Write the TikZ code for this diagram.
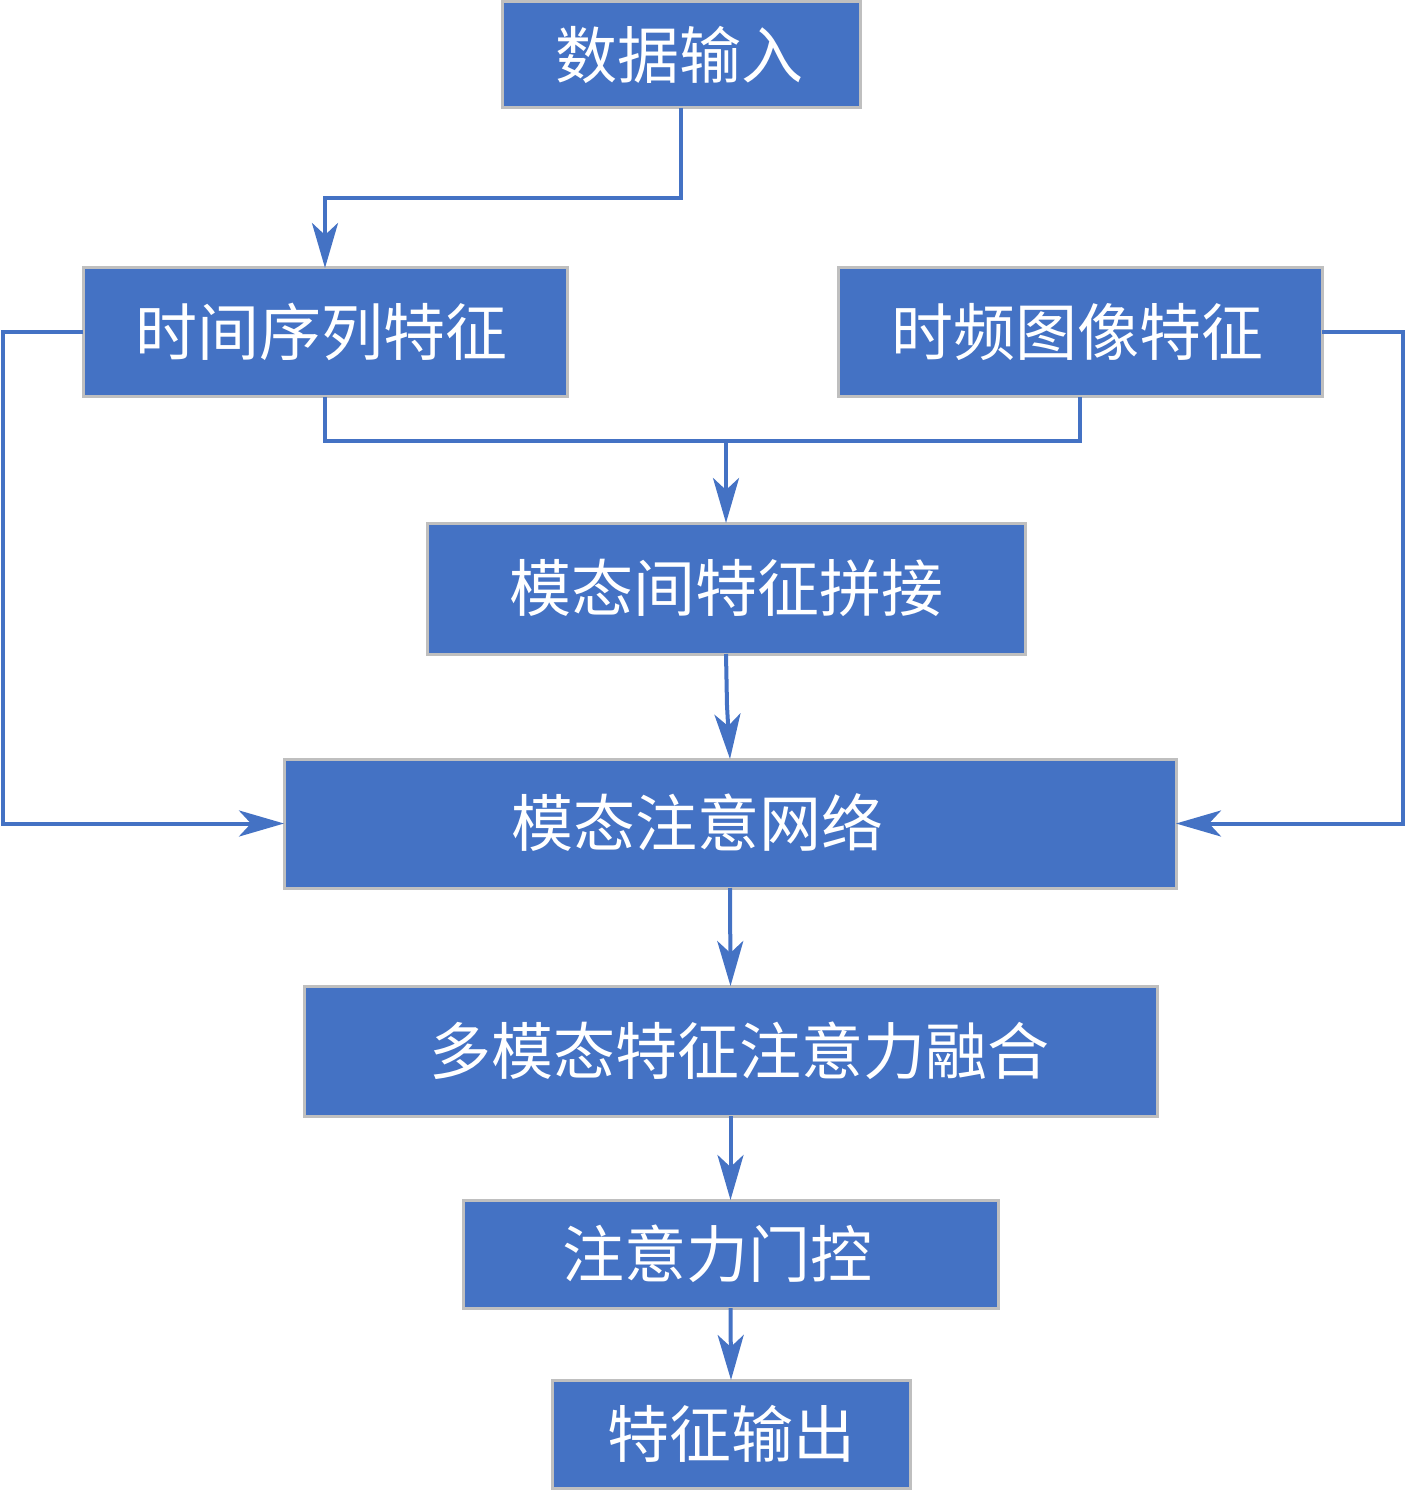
\documentclass[tikz,border=0pt]{standalone}
\usepackage{fontspec}
\newfontfamily\cjk{Noto Sans CJK SC}
\usetikzlibrary{arrows.meta}
\definecolor{boxblue}{HTML}{4472C4}
\definecolor{boxedge}{HTML}{BFBFBF}
\begin{document}
\begin{tikzpicture}[x=0.5pt,y=-0.5pt,
  box/.style={draw=boxedge,line width=1.5pt,fill=boxblue,inner sep=0pt,outer sep=0pt},
  txt/.style={text=white,font=\cjk\fontsize{31}{34}\selectfont,inner sep=0pt},
  conn/.style={draw=boxblue,line width=2pt},
  arr/.style={conn,-{Stealth[length=22.5pt,width=13pt,inset=6pt]}}]
\useasboundingbox (0,0) rectangle (1406,1491);
\node[box,minimum width=179pt,minimum height=53pt] (in) at (681,55) {};
\node[box,minimum width=242pt,minimum height=64.5pt] (ts) at (325,332.5) {};
\node[box,minimum width=242pt,minimum height=64.5pt] (tf) at (1080,332.5) {};
\node[box,minimum width=299pt,minimum height=65.5pt] (cat) at (726,588.5) {};
\node[box,minimum width=446pt,minimum height=64.5pt] (att) at (730,823.5) {};
\node[box,minimum width=426.5pt,minimum height=65pt] (fus) at (730.5,1051) {};
\node[box,minimum width=267.5pt,minimum height=54pt] (gate) at (730.5,1254) {};
\node[box,minimum width=179pt,minimum height=54pt] (out) at (731,1434) {};
\node[txt] (tin) at (679,55) {数据输入};
\node[txt] (tts) at (321,332) {时间序列特征};
\node[txt] (ttf) at (1077,332) {时频图像特征};
\node[txt] (tcat) at (726,588) {模态间特征拼接};
\node[txt] (tatt) at (697,823) {模态注意网络};
\node[txt] (tfus) at (739,1051) {多模态特征注意力融合};
\node[txt] (tgate) at (717,1254) {注意力门控};
\node[txt] (tout) at (731,1434) {特征输出};
\coordinate (j) at (726,441);
\coordinate (k) at (727,706);
\draw[arr] (in.south) -- ++(0,90) -| (ts.north);
\draw[conn] (ts.south) -- ++(0,44) -| (tf.south);
\draw[arr] (j) -- (cat.north);
\draw[conn] (cat.south) -- (k);
\draw[arr] (k) -- (att.north);
\draw[arr] (ts.west) -- ++(-80,0) |- (att.west);
\draw[arr] (tf.east) -- ++(81,0) |- (att.east);
\draw[arr] (att.south) -- (fus.north);
\draw[arr] (fus.south) -- (gate.north);
\draw[arr] (gate.south) -- (out.north);
\end{tikzpicture}
\end{document}
